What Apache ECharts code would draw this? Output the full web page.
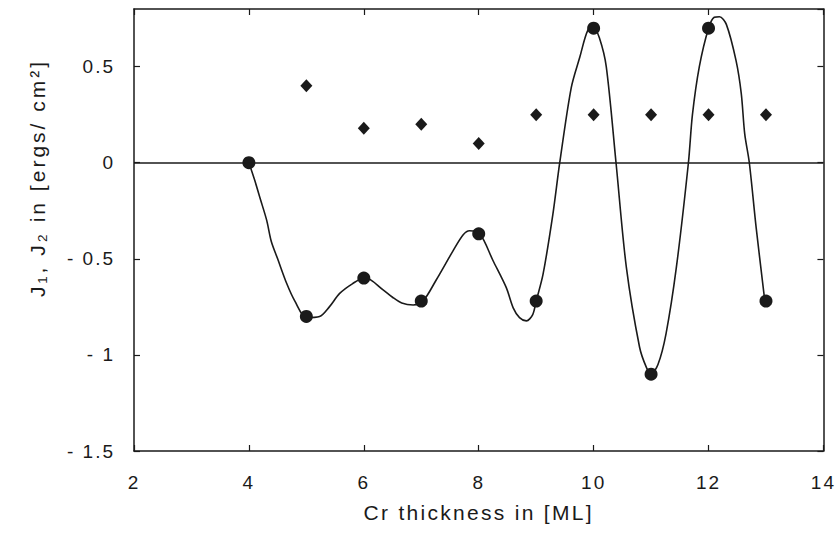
<!DOCTYPE html>
<html>
<head>
<meta charset="utf-8">
<script src="https://cdn.jsdelivr.net/npm/echarts@6/dist/echarts.min.js"></script>
<style>html,body{margin:0;padding:0;background:#fff;}#c{width:837px;height:537px;}</style>
</head>
<body>
<div id="c"></div>
<script>
// J1 measured points (circles)
const j1X = [4, 5, 6, 7, 8, 9, 10, 11, 12, 13];
const j1Y = [0, -0.80, -0.60, -0.72, -0.37, -0.72, 0.70, -1.10, 0.70, -0.72];
// J2 measured points (diamonds)
const j2X = [5, 6, 7, 8, 9, 10, 11, 12, 13];
const j2Y = [0.40, 0.18, 0.20, 0.10, 0.25, 0.25, 0.25, 0.25, 0.25];
// fitted curve
const curveX = [4.0, 4.1, 4.2, 4.31, 4.39, 4.5, 4.66, 4.8, 5.0, 5.23, 5.4, 5.58, 5.8, 6.02, 6.33, 6.5, 6.66, 6.86, 7.03, 7.26, 7.55, 7.73, 7.84, 8.02, 8.25, 8.48, 8.6, 8.71, 8.83, 8.94, 9.0, 9.12, 9.29, 9.41, 9.61, 9.76, 9.9, 10.0, 10.1, 10.22, 10.39, 10.57, 10.8, 10.92, 11.0, 11.12, 11.26, 11.44, 11.65, 11.72, 11.84, 12.0, 12.1, 12.19, 12.31, 12.48, 12.57, 12.63, 12.71, 12.83, 12.98];
const curveY = [0.0, -0.09, -0.19, -0.30, -0.41, -0.50, -0.63, -0.72, -0.806, -0.80, -0.75, -0.68, -0.63, -0.597, -0.66, -0.70, -0.73, -0.74, -0.72, -0.61, -0.46, -0.375, -0.354, -0.37, -0.51, -0.65, -0.755, -0.806, -0.823, -0.79, -0.72, -0.58, -0.27, 0.0, 0.39, 0.55, 0.69, 0.70, 0.65, 0.50, 0.0, -0.545, -0.96, -1.066, -1.10, -1.05, -0.89, -0.545, 0.0, 0.25, 0.50, 0.70, 0.757, 0.76, 0.72, 0.53, 0.36, 0.15, 0.0, -0.34, -0.72];
// axis ticks
const xTicks = [2, 4, 6, 8, 10, 12, 14];
const yTicks = [-1.5, -1, -0.5, 0, 0.5];
const xTitle = 'Cr thickness in [ML]';
const yTitle = 'J\u2081, J\u2082 in [ergs/ cm\u00B2]';

const pairs = (xs, ys) => xs.map((x, i) => [x, ys[i]]);
const font = '"Liberation Sans", Arial, sans-serif';
const ink = '#1a1a1a';
const fmtY = v => {
  if (!yTicks.some(t => Math.abs(t - v) < 1e-9)) return '';
  return v < 0 ? '- ' + Math.abs(v) : String(v);
};

const chart = echarts.init(document.getElementById('c'), null, {renderer: 'svg'});
chart.setOption({
  animation: false,
  backgroundColor: '#fff',
  grid: {left: 134, right: 13, top: 9, bottom: 86, containLabel: false},
  graphic: [{
    type: 'text', x: 37, y: 178, rotation: Math.PI / 2,
    style: {text: yTitle, fill: ink, font: '21px "Liberation Sans", Arial, sans-serif', align: 'center', verticalAlign: 'middle'}
  }],
  xAxis: [{
    type: 'value', min: xTicks[0], max: xTicks[xTicks.length - 1], interval: 2,
    name: xTitle, nameLocation: 'middle', nameGap: 51,
    nameTextStyle: {fontFamily: font, fontSize: 21, color: ink},
    axisLine: {show: true, onZero: false, lineStyle: {color: ink, width: 1.5}},
    axisTick: {show: true, inside: true, length: 6, lineStyle: {color: ink, width: 1.2}},
    axisLabel: {fontFamily: font, fontSize: 19, color: ink, margin: 22},
    splitLine: {show: false}
  }, {
    type: 'value', position: 'top', min: xTicks[0], max: xTicks[xTicks.length - 1], interval: 2,
    axisLine: {show: true, onZero: false, lineStyle: {color: ink, width: 1.5}},
    axisTick: {show: true, inside: true, length: 6, lineStyle: {color: ink, width: 1.2}},
    axisLabel: {show: false}, splitLine: {show: false}
  }],
  yAxis: [{
    type: 'value', min: -1.5, max: 0.8, interval: 0.5,
    axisLine: {show: true, onZero: false, lineStyle: {color: ink, width: 1.5}},
    axisTick: {show: true, inside: true, length: 6, lineStyle: {color: ink, width: 1.2}},
    axisLabel: {fontFamily: font, fontSize: 19, color: ink, margin: 19, formatter: fmtY, showMaxLabel: false},
    splitLine: {show: false}
  }, {
    type: 'value', position: 'right', min: -1.5, max: 0.8, interval: 0.5,
    axisLine: {show: true, onZero: false, lineStyle: {color: ink, width: 1.5}},
    axisTick: {show: true, inside: true, length: 6, lineStyle: {color: ink, width: 1.2}},
    axisLabel: {show: false}, splitLine: {show: false}
  }],
  series: [{
    type: 'line', name: 'fit', data: pairs(curveX, curveY),
    showSymbol: false, smooth: 0.3,
    lineStyle: {color: ink, width: 1.6},
    markLine: {
      silent: true, symbol: 'none', label: {show: false},
      lineStyle: {color: ink, width: 1.5, type: 'solid'},
      data: [{yAxis: 0}]
    },
    z: 2
  }, {
    type: 'scatter', name: 'J1', data: pairs(j1X, j1Y),
    symbol: 'circle', symbolSize: 13,
    itemStyle: {color: ink, opacity: 1}, z: 3
  }, {
    type: 'scatter', name: 'J2', data: pairs(j2X, j2Y),
    symbol: 'diamond', symbolSize: [12, 13],
    itemStyle: {color: ink, opacity: 1}, z: 3
  }]
});

// the reference type is widely tracked; apply letter spacing to the svg text
function track() {
  document.querySelectorAll('#c svg text').forEach(t => {
    const s = t.textContent;
    let ls = '2px';
    if (s === xTitle) ls = '2.3px';
    else if (s === yTitle) ls = '3px';
    t.setAttribute('letter-spacing', ls);
  });
}
chart.on('finished', track);
setTimeout(track, 0);
setTimeout(track, 100);
</script>
</body>
</html>
